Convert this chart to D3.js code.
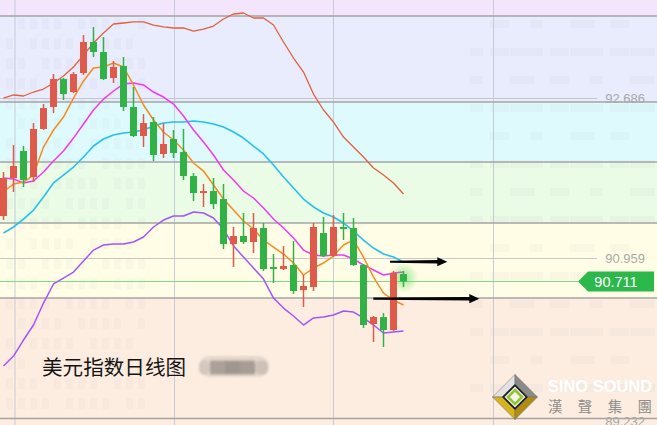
<!DOCTYPE html>
<html><head><meta charset="utf-8">
<script src="https://cdn.jsdelivr.net/npm/d3@7"></script>
<style>html,body{margin:0;padding:0;background:#fff;overflow:hidden}svg{display:block}</style>
</head><body><svg id="c" width="657" height="425"></svg>
<script>
// ---- data (daily candles, index 0..40) ----
const opens  = [91.417,91.828,92.119,91.838,92.357,92.594,92.896,92.756,92.961,93.296,93.188,92.907,93.037,92.594,92.281,92.432,92.087,92.249,92.108,91.849,91.666,91.687,91.601,91.115,91.202,91.137,91.288,90.867,90.845,90.889,90.618,90.651,91.234,90.986,91.299,91.288,90.889,90.252,90.327,90.187,90.791];
const closes = [91.828,91.957,91.806,92.357,92.583,92.896,92.734,92.950,93.296,93.188,92.896,93.026,92.594,92.281,92.421,92.076,92.195,92.098,91.849,91.666,91.687,91.547,91.115,91.202,91.137,91.288,90.845,90.845,90.878,90.608,90.662,91.299,90.986,91.299,91.277,90.889,90.241,90.327,90.187,90.802,90.711];
const highs  = [91.892,92.184,92.173,92.421,92.626,92.950,92.907,92.972,93.371,93.458,93.350,93.091,93.134,92.810,92.518,92.486,92.421,92.346,92.357,91.882,91.763,91.828,91.763,91.299,91.450,91.450,91.342,91.007,91.094,91.148,90.781,91.342,91.407,91.428,91.450,91.396,90.900,90.338,90.370,90.824,90.824];
const lows   = [91.374,91.677,91.731,91.784,92.346,92.529,92.670,92.745,92.939,93.134,92.885,92.853,92.551,92.270,92.162,92.011,92.044,92.044,91.806,91.579,91.515,91.493,91.061,90.867,91.115,91.018,90.824,90.694,90.835,90.576,90.435,90.608,90.975,90.975,91.158,90.878,90.209,90.057,90.004,90.176,90.651];
const upperBand  = [92.691,92.724,92.713,92.756,92.788,92.853,92.929,93.026,93.155,93.285,93.393,93.490,93.501,93.512,93.512,93.479,93.458,93.447,93.447,93.414,93.436,93.468,93.544,93.598,93.609,93.555,93.555,93.479,93.296,93.123,92.972,92.734,92.562,92.432,92.270,92.162,92.054,91.936,91.860,91.774,91.655];
const middleBand = [91.234,91.299,91.385,91.482,91.623,91.774,91.860,91.946,92.054,92.173,92.249,92.292,92.313,92.324,92.346,92.389,92.421,92.432,92.432,92.443,92.432,92.411,92.378,92.324,92.259,92.173,92.087,91.968,91.838,91.720,91.601,91.515,91.450,91.407,91.342,91.256,91.158,91.072,91.007,90.975,90.921];
const lowerBand  = [89.798,89.906,90.079,90.241,90.478,90.684,90.748,90.813,90.932,91.050,91.105,91.115,91.115,91.137,91.191,91.299,91.374,91.417,91.417,91.461,91.450,91.396,91.277,91.094,90.975,90.856,90.737,90.532,90.424,90.338,90.241,90.317,90.327,90.349,90.392,90.381,90.317,90.241,90.155,90.165,90.176];
const ma10 = [91.828,91.817,91.774,91.795,91.892,92.011,92.119,92.259,92.411,92.562,92.680,92.767,92.842,92.853,92.832,92.756,92.702,92.626,92.497,92.346,92.216,92.076,91.914,91.806,91.687,91.612,91.504,91.385,91.288,91.180,91.050,90.997,90.986,90.997,90.997,90.953,90.889,90.835,90.781,90.802,90.813];
const ma5  = [91.677,91.763,91.784,91.860,92.162,92.346,92.486,92.691,92.875,93.015,93.026,93.069,93.026,92.832,92.616,92.454,92.324,92.238,92.130,91.990,91.903,91.752,91.601,91.482,91.364,91.277,91.158,91.083,91.007,90.910,90.781,90.856,90.910,90.986,91.105,91.158,90.975,90.759,90.586,90.511,90.457];
const zoneLevels = [93.576, 92.648, 92.000, 91.342, 90.532];
const priceLabels = [92.686, 90.959, 89.232];
const lastPrice = 90.711;
const gridTicks = [1.15, 17.1, 33.0, 49.0];
const arrowFrom = [38.65, 36.98];
const arrowTo   = [44.38, 47.58];
const arrowPrice = [90.924, 90.525];
const titleText = "美元指数日线图";
const brandEn = "SINO SOUND";
const brandZh = "漢聲集團";

// ---- setup ----
const W = 657, H = 425;
const svg = d3.select("#c");
const x = d3.scaleLinear().domain([0, 40]).range([3.5, 403.5]);
const y = d3.scaleLinear().domain([92.686, 90.959]).range([98.5, 258.5]);
const idx = d3.range(opens.length);
const defs = svg.append("defs");

// zones
const zoneColors = ["#f3e5fb","#e8ecfd","#dffafd","#eafbe6","#fffde6","#fdede0"];
const edges = [y.invert(0), ...zoneLevels, y.invert(H)];
svg.append("g").selectAll("rect").data(zoneColors).join("rect")
  .attr("x", 0).attr("width", W)
  .attr("y", (d,i) => y(edges[i]))
  .attr("height", (d,i) => y(edges[i+1]) - y(edges[i]))
  .attr("fill", d => d);

// faint watermark windows
const wm = svg.append("g").attr("fill", "#8a8aa0").attr("opacity", 0.04);
d3.range(0, 20).forEach(r => d3.range(0, 12).forEach(c => {
  if ((r*7 + c*3) % 5 === 0) return;
  wm.append("rect").attr("x", 6 + c*12).attr("y", 18 + r*20).attr("width", 7).attr("height", 11);
}));
const wm2 = svg.append("g").attr("fill", "#8a8aa0").attr("opacity", 0.045);
d3.range(0, 14).forEach(r => d3.range(0, 9).forEach(c => {
  if ((r*5 + c*2) % 4 === 0) return;
  wm2.append("rect").attr("x", 470 + c*20).attr("y", 20 + r*28).attr("width", 13 + (c%3)*6).attr("height", 8);
}));

// vertical grid
svg.append("g").selectAll("line").data(gridTicks).join("line")
  .attr("x1", d => x(d)).attr("x2", d => x(d)).attr("y1", 0).attr("y2", H)
  .attr("stroke", "#c6cbd8").attr("stroke-width", 1);

// zone lines
svg.append("g").selectAll("line").data(zoneLevels).join("line")
  .attr("x1", 0).attr("x2", W).attr("y1", d => y(d)).attr("y2", d => y(d))
  .attr("stroke", "#a4a4a4").attr("stroke-width", 1.5);

// price label lines
svg.append("g").selectAll("line").data(priceLabels).join("line")
  .attr("x1", 0).attr("x2", (d,i) => i === 2 ? W : 597)
  .attr("y1", d => y(d)).attr("y2", d => y(d))
  .attr("stroke", (d,i) => i === 2 ? "#a4a4a4" : "#c8c8c8")
  .attr("stroke-width", (d,i) => i === 2 ? 1.5 : 1);
svg.append("g").selectAll("text").data(priceLabels).join("text")
  .attr("x", 645).attr("y", (d,i) => y(d) + (i === 2 ? 2.5 : 0)).attr("dy", "0.36em")
  .attr("text-anchor", "end").attr("fill", "#a9a9a9")
  .style("font", "13px 'Liberation Sans', Arial, sans-serif")
  .text(d => d.toFixed(3));

// last price line
svg.append("line").attr("x1", 0).attr("x2", 578)
  .attr("y1", y(lastPrice)).attr("y2", y(lastPrice))
  .attr("stroke", "#86d886").attr("stroke-width", 1.2);

// indicator lines
const line = d3.line().x((d,i) => x(i)).y(d => y(d));
const series = [
  {v: upperBand, c: "#e2603e", w: 1.3},
  {v: lowerBand, c: "#a555f5", w: 1.5},
  {v: middleBand, c: "#26c0ee", w: 1.6},
  {v: ma10, c: "#f03af0", w: 1.5},
  {v: ma5, c: "#f78b1e", w: 1.5}
];
svg.append("g").selectAll("path").data(series).join("path")
  .attr("d", d => line(d.v)).attr("fill", "none")
  .attr("stroke", d => d.c).attr("stroke-width", d => d.w)
  .attr("stroke-linejoin", "round");

// glow on last candle
const rg = defs.append("radialGradient").attr("id", "glow");
rg.append("stop").attr("offset", "0%").attr("stop-color", "#4cd24c").attr("stop-opacity", 0.55);
rg.append("stop").attr("offset", "100%").attr("stop-color", "#4cd24c").attr("stop-opacity", 0);
const li = opens.length - 1;
svg.append("circle").attr("cx", x(li)).attr("cy", y((opens[li]+closes[li])/2)).attr("r", 15).attr("fill", "url(#glow)");

// candles
const up = "#de5a4a", down = "#32b146";
const cg = svg.append("g").selectAll("g").data(idx).join("g");
cg.append("line")
  .attr("x1", i => x(i)).attr("x2", i => x(i))
  .attr("y1", i => y(highs[i])).attr("y2", i => y(lows[i]))
  .attr("stroke", i => closes[i] >= opens[i] ? up : down).attr("stroke-width", 1.5);
cg.append("rect")
  .attr("x", i => x(i) - 3.5).attr("width", 7)
  .attr("y", i => Math.min(y(opens[i]), y(closes[i])))
  .attr("height", i => Math.max(2, Math.abs(y(opens[i]) - y(closes[i]))))
  .attr("fill", i => closes[i] >= opens[i] ? up : down);

// arrows
svg.append("g").selectAll("path").data(arrowFrom).join("path")
  .attr("d", (d,i) => {
    const x1 = x(d), x2 = x(arrowTo[i]), yy = y(arrowPrice[i]), hb = x2 - 10;
    return `M${x1},${yy-1.1}L${hb},${yy-1.7}L${hb},${yy-4.6}L${x2},${yy}L${hb},${yy+4.6}L${hb},${yy+1.7}L${x1},${yy+1.1}Z`;
  })
  .attr("fill", "#050505");

// last price tag
const ly = y(lastPrice);
svg.append("path")
  .attr("d", `M578,${ly}L588,${ly-10}L654,${ly-10}L654,${ly+10}L588,${ly+10}Z`)
  .attr("fill", "#2db84b");
svg.append("text").attr("x", 616).attr("y", ly).attr("dy", "0.36em")
  .attr("text-anchor", "middle").attr("fill", "#fff")
  .style("font", "14.5px 'Liberation Sans', Arial, sans-serif")
  .text(lastPrice.toFixed(3));

// title
svg.append("text").attr("x", 42).attr("y", 375).attr("fill", "#151515")
  .style("font", "20.6px 'Noto Sans CJK SC', sans-serif").text(titleText);

// blurred pill
const blur = defs.append("filter").attr("id", "bl").attr("x", "-20%").attr("y", "-50%").attr("width", "140%").attr("height", "200%");
blur.append("feGaussianBlur").attr("stdDeviation", 1.2);
const pill = svg.append("g").attr("filter", "url(#bl)");
pill.append("rect").attr("x", 199).attr("y", 356).attr("width", 70).attr("height", 21).attr("rx", 10).attr("fill", "#e6d8cc");
const pillShades = ["#d4c8bf", "#aca198", "#a1968e", "#a89d95", "#cec2b8"];
const pillW = [11, 15, 15, 15, 13];
let px = 199;
pillShades.forEach((c, k) => {
  pill.append("rect").attr("x", px).attr("y", 360.5).attr("width", pillW[k]).attr("height", 14)
    .attr("rx", k === 0 || k === 4 ? 5 : 0).attr("fill", c);
  px += pillW[k];
});

// logo
const lg = svg.append("g").attr("transform", "translate(515,397)");
const O = 22.5, I = 13;
const faces = [
  {p: [[0,-O],[-O,0],[-I,0],[0,-I]], c: "#e2e2e2"},
  {p: [[0,-O],[O,0],[I,0],[0,-I]], c: "#8a8a8a"},
  {p: [[-O,0],[0,O],[0,I],[-I,0]], c: "#d6b21c"},
  {p: [[O,0],[0,O],[0,I],[I,0]], c: "#b18c12"}
];
lg.selectAll("path").data(faces).join("path")
  .attr("d", d => "M" + d.p.map(q => q.join(",")).join("L") + "Z")
  .attr("fill", d => d.c).attr("stroke", "#6a6a6a").attr("stroke-width", 0.5);
lg.append("path").attr("d", `M0,${-I}L${I},0L0,${I}L${-I},0Z`).attr("fill", "#1e1e1e");
lg.append("path").attr("d", "M0,-10.5L10.5,0L0,10.5L-10.5,0Z").attr("fill", "#f4f1e6");
lg.append("path").attr("d", "M0,-7L7,0L0,7L-7,0Z").attr("fill", "#fdf3e6").attr("stroke", "#8cc43a").attr("stroke-width", 2.6);

svg.append("text").attr("x", 548).attr("y", 392).attr("fill", "#ffffff")
  .attr("textLength", 104).attr("lengthAdjust", "spacingAndGlyphs")
  .style("font", "bold 16.5px 'Liberation Sans', Arial, sans-serif").text(brandEn);
svg.append("text").attr("x", 548).attr("y", 412).attr("fill", "#8e8e8e")
  .attr("textLength", 104).attr("lengthAdjust", "spacing")
  .style("font", "14.5px 'Noto Sans CJK TC', sans-serif").text(brandZh);
</script></body></html>
